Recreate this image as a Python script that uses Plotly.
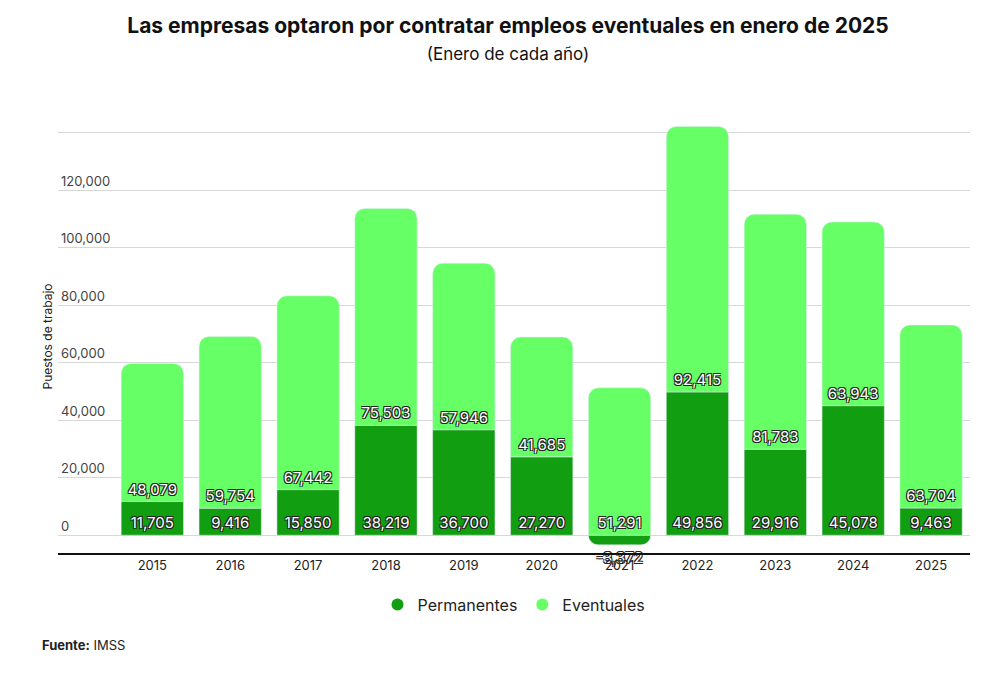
import plotly.graph_objects as go

years = ["2015","2016","2017","2018","2019","2020","2021","2022","2023","2024","2025"]
permanentes = [11705, 9416, 15850, 38219, 36700, 27270, -3372, 49856, 29916, 45078, 9463]
eventuales = [48079, 59754, 67442, 75503, 57946, 41685, 51291, 92415, 81783, 63943, 63704]
tickvals = [0, 20000, 40000, 60000, 80000, 100000, 120000, 140000]

DARK = "#119e11"
LIGHT = "#66ff66"
shadow = "-1px -1px 0 #222, 1px -1px 0 #222, -1px 1px 0 #222, 1px 1px 0 #222"
tf = dict(family="Inter", size=15, color="white", shadow=shadow)

fig = go.Figure()
fig.add_bar(x=years, y=permanentes, marker_color=DARK, name="Permanentes",
            text=[f"{v:,}" for v in permanentes],
            textposition=["outside" if v < 0 else "inside" for v in permanentes],
            insidetextanchor="start", textfont=tf, outsidetextfont=tf, textangle=0,
            showlegend=False, constraintext="none", cliponaxis=False)
fig.add_bar(x=years, y=eventuales, marker_color=LIGHT, name="Eventuales",
            text=[f"{v:,}" for v in eventuales], textposition="inside",
            insidetextanchor="start", textfont=tf, textangle=0, showlegend=False,
            constraintext="none")
for nm, c in [("Permanentes", DARK), ("Eventuales", LIGHT)]:
    fig.add_scatter(x=[None], y=[None], mode="markers", name=nm,
                    marker=dict(color=c, size=16, symbol="circle"))

fig.update_layout(
    width=1000, height=700, barmode="relative", bargap=0.2, barcornerradius=10,
    plot_bgcolor="white", paper_bgcolor="white",
    font=dict(family="Inter", size=13, color="#222"),
    title=dict(text="<b>Las empresas optaron por contratar empleos eventuales en enero de 2025</b>"
                    "<br><span style='font-size:17px'>(Enero de cada año)</span>",
               x=0.5, xanchor="center", y=0.965, yanchor="top", font=dict(size=21, color="#111")),
    margin=dict(l=50, r=38, t=112, b=155),
    legend=dict(orientation="h", x=0.5, xanchor="center", y=-0.08, yanchor="top",
                font=dict(size=16), itemsizing="constant"),
    xaxis=dict(showline=True, linecolor="#111", linewidth=1.5, ticks="", tickfont=dict(size=13)),
    yaxis=dict(range=[-6200, 144500], tickvals=tickvals, tickformat=",",
               ticklabelposition="inside top", showgrid=True, gridcolor="#d8d8d8",
               zeroline=False, tickfont=dict(size=13),
               title=dict(text="Puestos de trabajo", font=dict(size=12), standoff=5)),
    annotations=[dict(text="<b>Fuente:</b> IMSS", xref="paper", yref="paper", x=-0.02,
                      y=-0.19, xanchor="left", yanchor="top", showarrow=False,
                      font=dict(size=13))],
)
fig.write_html("out.html")
